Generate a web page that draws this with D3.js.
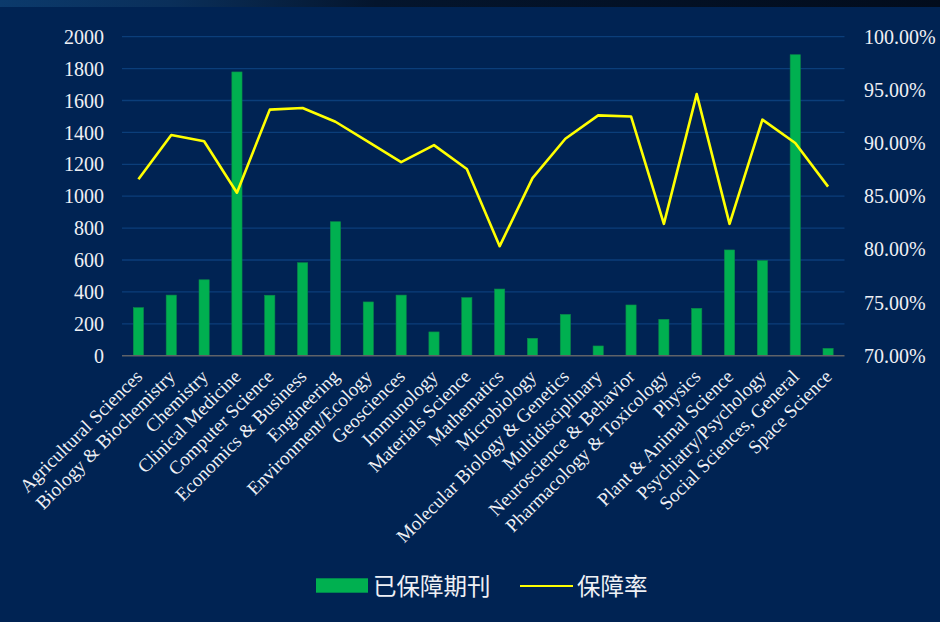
<!DOCTYPE html>
<html><head><meta charset="utf-8">
<script src="https://cdn.jsdelivr.net/npm/d3@7/dist/d3.min.js"></script>
<style>
html,body{margin:0;padding:0;background:#002353;}
svg{display:block;}
</style></head><body>
<svg id="c" width="940" height="622"></svg>
<script>
const categories = ["Agricultural Sciences","Biology & Biochemistry","Chemistry","Clinical Medicine","Computer Science","Economics & Business","Engineering","Environment/Ecology","Geosciences","Immunology","Materials Science","Mathematics","Microbiology","Molecular Biology & Genetics","Multidisciplinary","Neuroscience & Behavior","Pharmacology & Toxicology","Physics","Plant & Animal Science","Psychiatry/Psychology","Social Sciences, General","Space Science"];
const journals = [301,380,476,1779,379,583,840,337,380,149,364,418,109,259,61,318,228,297,663,596,1887,46];
const rates = [86.6,90.76,90.17,85.33,93.14,93.3,92.0,90.1,88.2,89.8,87.56,80.3,86.7,90.4,92.6,92.5,82.4,94.6,82.4,92.2,90.0,85.9];
const leftTicks = [0,200,400,600,800,1000,1200,1400,1600,1800,2000];
const rightTicks = [70,75,80,85,90,95,100];
const seriesNames = ["已保障期刊","保障率"];

const svg = d3.select("#c");
const W=940,H=622;
const defs = svg.append("defs");
const g1 = defs.append("linearGradient").attr("id","topg").attr("x1","0").attr("x2","1");
g1.append("stop").attr("offset","0").attr("stop-color","#0b3a6c");
g1.append("stop").attr("offset","0.18").attr("stop-color","#0a2f5a");
g1.append("stop").attr("offset","0.4").attr("stop-color","#04152d");
g1.append("stop").attr("offset","1").attr("stop-color","#020c1c");
svg.append("rect").attr("width",W).attr("height",H).attr("fill","#002353");
svg.append("rect").attr("width",W).attr("height",7).attr("fill","url(#topg)");

const x0=122, x1=844.5, yTop=36.7, yBot=355.7;
const x = d3.scaleBand().domain(categories).range([x0,x1]).paddingInner(0.69).paddingOuter(0.345);
const xc = d3.scaleBand().domain(categories).range([x0,x1]);
const yL = d3.scaleLinear().domain([0,2000]).range([yBot,yTop]);
const yR = d3.scaleLinear().domain([70,100]).range([yBot,yTop]);

// gridlines
svg.append("g").selectAll("line").data(leftTicks.filter(d=>d>0)).join("line")
  .attr("x1",x0).attr("x2",x1).attr("y1",d=>yL(d)).attr("y2",d=>yL(d))
  .attr("stroke","#0b3e7a").attr("stroke-width",1.3);

// bars
svg.append("g").selectAll("rect").data(categories).join("rect")
  .attr("x",d=>x(d)).attr("width",x.bandwidth())
  .attr("y",(d,i)=>yL(journals[i])).attr("height",(d,i)=>yBot-yL(journals[i]))
  .attr("fill","#00b050").attr("stroke","#0a8a4a").attr("stroke-width",0.6);

// axis line
svg.append("line").attr("x1",x0).attr("x2",x1).attr("y1",yBot).attr("y2",yBot)
  .attr("stroke","#5f6268").attr("stroke-width",1.5);

// line
const line = d3.line().x((d,i)=>xc(categories[i])+xc.bandwidth()/2).y(d=>yR(d));
svg.append("path").datum(rates).attr("d",line).attr("fill","none")
  .attr("stroke","#ffff00").attr("stroke-width",2.6).attr("stroke-linejoin","round");

const font = "'Liberation Serif','Times New Roman',serif";
const tc = "#eef0f5";
// left axis
const la = d3.axisLeft(yL).tickValues(leftTicks).tickSize(0).tickPadding(0).tickFormat(d3.format("d"));
const lg = svg.append("g").attr("transform","translate(104,0)").call(la);
lg.select(".domain").remove();
lg.selectAll("text").attr("fill",tc).style("font-family",font).style("font-size","20px").attr("dy","0.33em");

// right axis
const ra = d3.axisRight(yR).tickValues(rightTicks).tickSize(0).tickPadding(0).tickFormat(d=>d.toFixed(2)+"%");
const rg = svg.append("g").attr("transform","translate(864,0)").call(ra);
rg.select(".domain").remove();
rg.selectAll("text").attr("fill",tc).style("font-family",font).style("font-size","20px").attr("dy","0.33em");

// x labels
svg.append("g").selectAll("text").data(categories).join("text")
  .attr("transform",d=>`translate(${xc(d)+xc.bandwidth()/2+5},${yBot+22}) rotate(-45)`)
  .attr("text-anchor","end").attr("fill",tc).style("font-family",font).style("font-size","19px")
  .text(d=>d);

// legend
const cjk = "'Noto Sans CJK SC','Microsoft YaHei',sans-serif";
svg.append("rect").attr("x",316).attr("y",578.3).attr("width",52).attr("height",14.4).attr("fill","#00b050");
svg.append("text").attr("x",373).attr("y",594.5).attr("fill",tc).style("font-family",cjk).style("font-size","23.5px").text(seriesNames[0]);
svg.append("line").attr("x1",520).attr("x2",573).attr("y1",586).attr("y2",586).attr("stroke","#ffff00").attr("stroke-width",2.2);
svg.append("text").attr("x",577).attr("y",594.5).attr("fill",tc).style("font-family",cjk).style("font-size","23.5px").text(seriesNames[1]);
</script>
</body></html>
